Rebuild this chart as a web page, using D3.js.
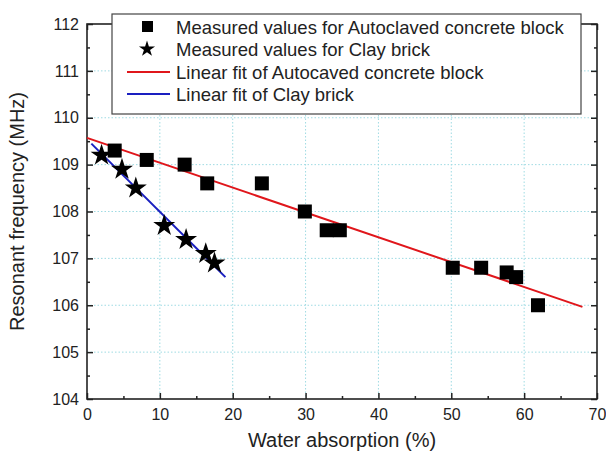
<!DOCTYPE html>
<html><head><meta charset="utf-8">
<script src="https://cdn.jsdelivr.net/npm/d3@7"></script>
<style>body{margin:0;background:#fff}svg{display:block;font-family:"Liberation Sans",Arial,sans-serif}</style>
</head><body><svg id="c" width="606" height="461"></svg>
<script>
const concreteX = [3.8, 8.2, 13.4, 16.5, 24.0, 29.9, 32.9, 34.7, 50.2, 54.1, 57.6, 58.9, 61.9];
const concreteY = [109.3, 109.1, 109.0, 108.6, 108.6, 108.0, 107.6, 107.6, 106.8, 106.8, 106.7, 106.6, 106.0];
const brickX = [2.0, 4.8, 6.7, 10.6, 13.6, 16.3, 17.5];
const brickY = [109.2, 108.9, 108.5, 107.7, 107.4, 107.1, 106.9];
const fitConcrete = {intercept: 109.57, slope: -0.053, x0: 0, x1: 68};
const fitBrick = {intercept: 109.54, slope: -0.1547, x0: 0.6, x1: 19};
const xTicks = [0, 10, 20, 30, 40, 50, 60, 70];
const yTicks = [104, 105, 106, 107, 108, 109, 110, 111, 112];
const legendLabels = ["Measured values for Autoclaved concrete block", "Measured values for Clay brick", "Linear fit of Autocaved concrete block", "Linear fit of Clay brick"];

const svg = d3.select("#c");
const L = 87, R = 597, T = 24, B = 399;
const x = d3.scaleLinear().domain([0, 70]).range([L, R]);
const y = d3.scaleLinear().domain([104, 112]).range([B, T]);
const axisColor = "#222";

// grid
const g = svg.append("g");
g.selectAll(".gx").data(xTicks.slice(1, -1)).join("line")
  .attr("x1", d => x(d)).attr("x2", d => x(d)).attr("y1", T).attr("y2", B)
  .attr("stroke", "#9fdbe3").attr("stroke-width", 1).attr("stroke-dasharray", "1.5,2");
g.selectAll(".gy").data(yTicks.slice(1, -1)).join("line")
  .attr("x1", L).attr("x2", R).attr("y1", d => y(d)).attr("y2", d => y(d))
  .attr("stroke", "#9fdbe3").attr("stroke-width", 1).attr("stroke-dasharray", "1.5,2");

// axes (ticks inward)
const xMinor = d3.range(5, 70, 10);
const yMinor = d3.range(104.5, 112, 1);
svg.append("g").attr("transform", `translate(0,${B})`)
  .call(d3.axisBottom(x).tickValues(xTicks).tickSize(-6).tickPadding(10).tickFormat(d3.format("d")))
  .call(a => a.select(".domain").remove());
svg.append("g").attr("transform", `translate(0,${B})`)
  .call(d3.axisBottom(x).tickValues(xMinor).tickSize(-3).tickFormat(""))
  .call(a => a.select(".domain").remove());
svg.append("g").attr("transform", `translate(0,${T})`)
  .call(d3.axisTop(x).tickValues(xTicks).tickSize(-6).tickFormat(""))
  .call(a => a.select(".domain").remove());
svg.append("g").attr("transform", `translate(0,${T})`)
  .call(d3.axisTop(x).tickValues(xMinor).tickSize(-3).tickFormat(""))
  .call(a => a.select(".domain").remove());
svg.append("g").attr("transform", `translate(${L},0)`)
  .call(d3.axisLeft(y).tickValues(yTicks).tickSize(-6).tickPadding(8).tickFormat(d3.format("d")))
  .call(a => a.select(".domain").remove());
svg.append("g").attr("transform", `translate(${L},0)`)
  .call(d3.axisLeft(y).tickValues(yMinor).tickSize(-3).tickFormat(""))
  .call(a => a.select(".domain").remove());
svg.append("g").attr("transform", `translate(${R},0)`)
  .call(d3.axisRight(y).tickValues(yTicks).tickSize(-6).tickFormat(""))
  .call(a => a.select(".domain").remove());
svg.append("g").attr("transform", `translate(${R},0)`)
  .call(d3.axisRight(y).tickValues(yMinor).tickSize(-3).tickFormat(""))
  .call(a => a.select(".domain").remove());
svg.selectAll(".tick line").attr("stroke", axisColor).attr("stroke-width", 1.5);
svg.selectAll(".tick text").attr("font-size", 16).attr("fill", "#222").attr("font-family", "Liberation Sans, Arial, sans-serif");

svg.append("rect").attr("x", L).attr("y", T).attr("width", R - L).attr("height", B - T)
  .attr("fill", "none").attr("stroke", axisColor).attr("stroke-width", 1.6);

// fits
const line = d3.line().x(d => x(d[0])).y(d => y(d[1]));
function fitPts(f) { return [[f.x0, f.intercept + f.slope * f.x0], [f.x1, f.intercept + f.slope * f.x1]]; }
svg.append("path").attr("d", line(fitPts(fitConcrete))).attr("stroke", "#e0161b").attr("stroke-width", 2).attr("fill", "none");
svg.append("path").attr("d", line(fitPts(fitBrick))).attr("stroke", "#1a1fc0").attr("stroke-width", 2).attr("fill", "none");

// points
const sq = 14;
svg.selectAll(".sq").data(concreteX.map((v, i) => [v, concreteY[i]])).join("rect")
  .attr("x", d => x(d[0]) - sq / 2).attr("y", d => y(d[1]) - sq / 2).attr("width", sq).attr("height", sq).attr("fill", "#000");
const star = d3.symbol().type(d3.symbolStar).size(150);
svg.selectAll(".st").data(brickX.map((v, i) => [v, brickY[i]])).join("path")
  .attr("d", star).attr("transform", d => `translate(${x(d[0])},${y(d[1])})`).attr("fill", "#000");

// legend
const lg = svg.append("g");
lg.append("rect").attr("x", 112).attr("y", 14).attr("width", 469).attr("height", 100)
  .attr("fill", "#fff").attr("stroke", "#444").attr("stroke-width", 1.2);
const rows = [27, 49, 72, 94];
lg.append("rect").attr("x", 142).attr("y", rows[0] - 6).attr("width", 11).attr("height", 11).attr("fill", "#000");
lg.append("path").attr("d", d3.symbol().type(d3.symbolStar).size(80)).attr("transform", `translate(147,${rows[1]})`).attr("fill", "#000");
lg.append("line").attr("x1", 127).attr("x2", 170).attr("y1", rows[2]).attr("y2", rows[2]).attr("stroke", "#e0161b").attr("stroke-width", 2);
lg.append("line").attr("x1", 127).attr("x2", 170).attr("y1", rows[3]).attr("y2", rows[3]).attr("stroke", "#1a1fc0").attr("stroke-width", 2);
lg.selectAll(".lt").data(legendLabels).join("text")
  .attr("x", 176).attr("y", (d, i) => rows[i]).attr("dy", "0.36em")
  .attr("font-size", 18.5).attr("fill", "#222").text(d => d);

// axis titles
svg.append("text").attr("x", (L + R) / 2).attr("y", 447).attr("text-anchor", "middle")
  .attr("font-size", 20).attr("fill", "#222").text("Water absorption (%)");
svg.append("text").attr("transform", `translate(24,${(T + B) / 2}) rotate(-90)`).attr("text-anchor", "middle")
  .attr("font-size", 20).attr("fill", "#222").text("Resonant frequency (MHz)");
</script></body></html>
